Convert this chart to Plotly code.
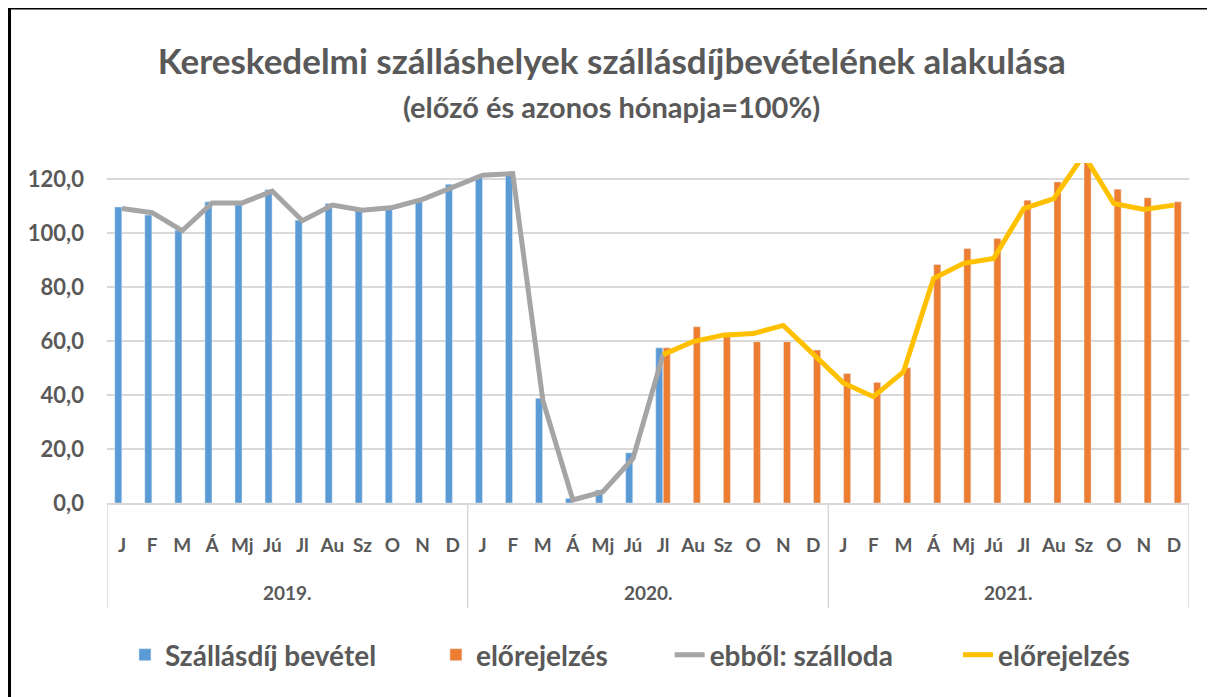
import plotly.graph_objects as go

months = ["J", "F", "M", "Á", "Mj", "Jú", "Jl", "Au", "Sz", "O", "N", "D"]
years = ["2019.", "2020.", "2021."]

# Szállásdíj bevétel (2019 J – 2020 Jl)
revenue = [109.7, 106.7, 101.1, 111.6, 110.5, 116.2, 104.8, 111.0, 108.5, 109.1, 111.6, 118.1,
           121.5, 122.0, 38.8, 1.7, 4.8, 18.6, 57.5]
# előrejelzés (2020 Jl – 2021 D)
revenue_fc = [57.5, 65.3, 63.1, 59.8, 59.8, 56.7,
              48.0, 44.7, 50.1, 88.4, 94.3, 98.0, 112.2, 119.0, 127.0, 116.3, 113.1, 111.6]
# ebből: szálloda (2019 J – 2020 Jl)
hotel = [109.1, 107.6, 100.9, 111.2, 111.2, 115.6, 104.6, 110.4, 108.5, 109.5, 112.5, 117.0,
         121.5, 122.1, 38.1, 1.1, 4.2, 16.5, 55.0]
# előrejelzés (2020 Jl – 2021 D)
hotel_fc = [55.0, 59.8, 62.2, 62.8, 65.8, 55.0,
            44.5, 39.4, 48.6, 83.2, 88.8, 90.6, 109.1, 112.8, 129.0, 111.0, 108.8, 110.4]

n = len(months) * len(years)
x = list(range(n))
ticktext = [m for _ in years for m in months]

n_hist = len(revenue)
fc_start = n - len(revenue_fc)

blue_y = revenue + [None] * (n - n_hist)
orange_y = [None] * fc_start + revenue_fc
gray_y = hotel + [None] * (n - len(hotel))
yellow_y = [None] * (n - len(hotel_fc)) + hotel_fc

FONT = "Lato, 'Open Sans', sans-serif"
TXT = "#595959"
GRID = "#D9D9D9"

fig = go.Figure()
fig.add_trace(go.Bar(x=x, y=blue_y, name="Szállásdíj bevétel", marker_color="#5B9BD5",
                     legend="legend"))
fig.add_trace(go.Bar(x=x, y=orange_y, name="előrejelzés", marker_color="#ED7D31",
                     legend="legend2"))
fig.add_trace(go.Scatter(x=x, y=gray_y, name="ebből: szálloda", mode="lines",
                         line=dict(color="#A5A5A5", width=5), legend="legend3"))
fig.add_trace(go.Scatter(x=x, y=yellow_y, name="előrejelzés", mode="lines",
                         line=dict(color="#FFC000", width=5), legend="legend4"))

shapes = []
for b in [-0.5, 11.5, 23.5, 35.5]:
    shapes.append(dict(type="line", xref="x", yref="paper", x0=b, x1=b, y0=0, y1=-0.309,
                       line=dict(color=GRID, width=1.5)))
# outer frame (left + top)
shapes.append(dict(type="line", xref="paper", yref="paper", x0=-0.0901, x1=-0.0901,
                   y0=1.456, y1=-0.65, line=dict(color="black", width=3)))
shapes.append(dict(type="line", xref="paper", yref="paper", x0=-0.0901, x1=1.03,
                   y0=1.456, y1=1.456, line=dict(color="black", width=3)))

annotations = []
for i, yr in enumerate(years):
    annotations.append(dict(text=yr, xref="x", yref="paper", x=i * 12 + 5.5, y=-0.262,
                            yanchor="middle", showarrow=False,
                            font=dict(family=FONT, size=19, color=TXT, weight="bold")))
annotations.append(dict(text="(előző és azonos hónapja=100%)", xref="paper", yref="paper",
                        x=0.466, y=1.165, yanchor="middle", showarrow=False,
                        font=dict(family=FONT, size=29, color=TXT, weight="bold")))

legend_font = dict(family=FONT, size=28, color=TXT, weight="bold")


def leg(xpos):
    return dict(orientation="h", x=xpos, xanchor="left", y=-0.447, yanchor="middle",
                font=legend_font, itemwidth=30, bgcolor="rgba(0,0,0,0)")


fig.update_layout(
    width=1215, height=697,
    margin=dict(l=99, r=34, t=155, b=202),
    paper_bgcolor="white", plot_bgcolor="white",
    separators=",.",
    title=dict(text="Kereskedelmi szálláshelyek szállásdíjbevételének alakulása",
               x=0.497, xanchor="center", y=1 - 54 / 697, yanchor="middle",
               font=dict(family=FONT, size=35, color=TXT, weight="bold")),
    barmode="group", bargap=0.5, bargroupgap=0.06,
    showlegend=True,
    legend=leg(0.0166), legend2=leg(0.304), legend3=leg(0.520), legend4=leg(0.7865),
    shapes=shapes, annotations=annotations,
)
fig.update_xaxes(range=[-0.5, 35.5], tickmode="array", tickvals=x, ticktext=ticktext,
                 showgrid=False, showline=True, linecolor=GRID, linewidth=1.5,
                 ticks="", ticklabelstandoff=24,
                 tickfont=dict(family=FONT, size=19, color=TXT, weight="bold"), fixedrange=True)
fig.update_yaxes(range=[0, 126], tickvals=[0, 20, 40, 60, 80, 100, 120], tickformat=".1f",
                 showgrid=True, gridcolor=GRID, gridwidth=1.5, zeroline=False, showline=False,
                 ticks="", ticklabelstandoff=22,
                 tickfont=dict(family=FONT, size=22, color=TXT, weight="bold"), fixedrange=True)

fig.write_html("out.html")
